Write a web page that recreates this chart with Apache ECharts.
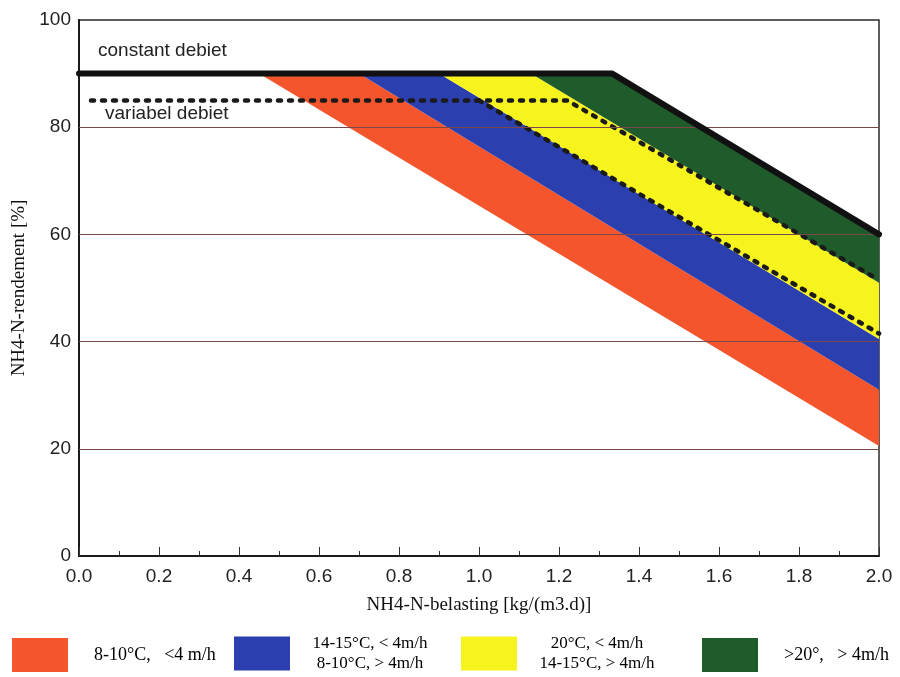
<!DOCTYPE html>
<html>
<head>
<meta charset="utf-8">
<title>NH4-N-rendement</title>
<script src="https://cdn.jsdelivr.net/npm/echarts@6/dist/echarts.min.js"></script>
<style>
  html, body { margin: 0; padding: 0; background: #fff; }
  #chart { width: 900px; height: 677px; }
</style>
</head>
<body>
<div id="chart"></div>
<script>
// Band boundaries: NH4-N-belasting [kg/(m3.d)] vs NH4-N-rendement [%]
const redLower    = [[0.45, 90], [2.0, 20.5]];
const redUpper    = [[0.70, 90], [2.0, 31]];
const blueUpper   = [[0.90, 90], [2.0, 40.5]];
const yellowUpper = [[1.13, 90], [2.0, 51]];
const greenUpper  = [[1.333, 90], [2.0, 60]];

// Efficiency curves
const constantDebiet = [[0, 90], [1.333, 90], [2.0, 60]];
const variabelDebiet = [[0.03, 85], [1.22, 85], [2.0, 51.5]];
const variabelBranch = [[1.0, 85], [2.0, 41.5]];

// Legend entries for the bands
const bandNames = [
  '8-10°C,   <4 m/h',
  '14-15°C, < 4m/h\n8-10°C, > 4m/h',
  '20°C, < 4m/h\n14-15°C, > 4m/h',
  '>20°,   > 4m/h'
];
const bandEdges = [
  [redLower, redUpper],
  [redUpper, blueUpper],
  [blueUpper, yellowUpper],
  [yellowUpper, greenUpper]
];

// Horizontal grid values
const yGridValues = [20, 40, 60, 80];

// Styling
const bandColors = ['#f4552d', '#2b3fae', '#f6f41c', '#1f5b2b'];
const legendLeft = [12, 234, 461, 702];
const sansFont = '"Liberation Sans", Arial, sans-serif';
const serifFont = '"Liberation Serif", "Times New Roman", serif';

function bandRenderer(lower, upper) {
  return function (params, api) {
    const pts = lower.concat(upper.slice().reverse()).map(function (p) { return api.coord(p); });
    return {
      type: 'polygon',
      shape: { points: pts },
      style: { fill: api.visual('color') }
    };
  };
}

const bandSeries = bandNames.map(function (name, i) {
  return {
    name: name,
    type: 'custom',
    coordinateSystem: 'cartesian2d',
    renderItem: bandRenderer(bandEdges[i][0], bandEdges[i][1]),
    itemStyle: { color: bandColors[i] },
    data: [bandEdges[i][0][0]],
    z: 2,
    silent: true
  };
});

const dotStyle = { color: '#1a1a1a', width: 4.5, type: [3, 8], cap: 'round' };

const chart = echarts.init(document.getElementById('chart'), null, { renderer: 'canvas' });

chart.setOption({
  animation: false,
  backgroundColor: '#fff',
  grid: {
    left: 79, right: 21, top: 20, bottom: 121,
    show: true, borderColor: '#2a2a2a', borderWidth: 1.5
  },
  xAxis: {
    type: 'value', min: 0, max: 2, interval: 0.2,
    name: 'NH4-N-belasting [kg/(m3.d)]',
    nameLocation: 'middle', nameGap: 40,
    nameTextStyle: { fontFamily: serifFont, fontSize: 19, color: '#111' },
    axisLine: { show: true, onZero: false, lineStyle: { color: '#1a1a1a', width: 2 } },
    axisTick: { show: true, inside: true, length: 9, lineStyle: { color: '#333', width: 1 } },
    minorTick: { show: true, splitNumber: 2, length: 5, lineStyle: { color: '#333', width: 1 } },
    axisLabel: {
      margin: 11, fontFamily: sansFont, fontSize: 19, color: '#222',
      formatter: function (v) { return v.toFixed(1); }
    },
    splitLine: { show: false }
  },
  yAxis: {
    type: 'value', min: 0, max: 100, interval: 20,
    name: 'NH4-N-rendement [%]',
    nameLocation: 'middle', nameGap: 48, nameRotate: 90,
    nameTextStyle: { fontFamily: serifFont, fontSize: 19, color: '#111' },
    axisLine: { show: true, onZero: false, lineStyle: { color: '#1a1a1a', width: 2 } },
    axisTick: { show: false },
    axisLabel: { margin: 8, fontFamily: sansFont, fontSize: 19, color: '#222' },
    splitLine: { show: false }
  },
  legend: bandNames.map(function (name, i) {
    const multi = name.indexOf('\n') >= 0;
    return {
      data: [name],
      left: legendLeft[i],
      top: multi ? 635 : 638,
      padding: 0,
      icon: 'rect',
      itemWidth: 56,
      itemHeight: 34,
      selectedMode: false,
      formatter: function (n) {
        if (!multi) return n;
        return n.split('\n').map(function (l) { return '{c|' + l + '}'; }).join('\n');
      },
      textStyle: {
        fontFamily: serifFont, fontSize: 18, color: '#000',
        padding: multi ? [0, 0, 0, 14] : [0, 0, 0, 21],
        rich: {
          c: { width: 122, align: 'center', fontFamily: serifFont, fontSize: 17, lineHeight: 20, color: '#000' }
        }
      }
    };
  }),
  graphic: [
    {
      type: 'text', left: 98, top: 41, silent: true,
      style: { text: 'constant debiet', font: '19px ' + sansFont, fill: '#222' }
    },
    {
      type: 'text', left: 105, top: 104, silent: true,
      style: { text: 'variabel debiet', font: '19px ' + sansFont, fill: '#222' }
    }
  ],
  series: bandSeries.concat([
    {
      // horizontal grid lines drawn across the bands
      type: 'line', data: [], silent: true, z: 3,
      markLine: {
        silent: true, symbol: 'none', label: { show: false },
        lineStyle: { color: '#7a4848', width: 1, type: 'solid' },
        data: yGridValues.map(function (v) { return { yAxis: v }; })
      }
    },
    {
      name: 'variabel debiet',
      type: 'line', data: variabelDebiet, symbol: 'none', z: 4,
      lineStyle: dotStyle
    },
    {
      name: 'variabel debiet (tak)',
      type: 'line', data: variabelBranch, symbol: 'none', z: 4,
      lineStyle: dotStyle
    },
    {
      name: 'constant debiet',
      type: 'line', data: constantDebiet, symbol: 'none', z: 5,
      lineStyle: { color: '#111', width: 6, cap: 'round', join: 'round' }
    }
  ])
});
</script>
</body>
</html>
